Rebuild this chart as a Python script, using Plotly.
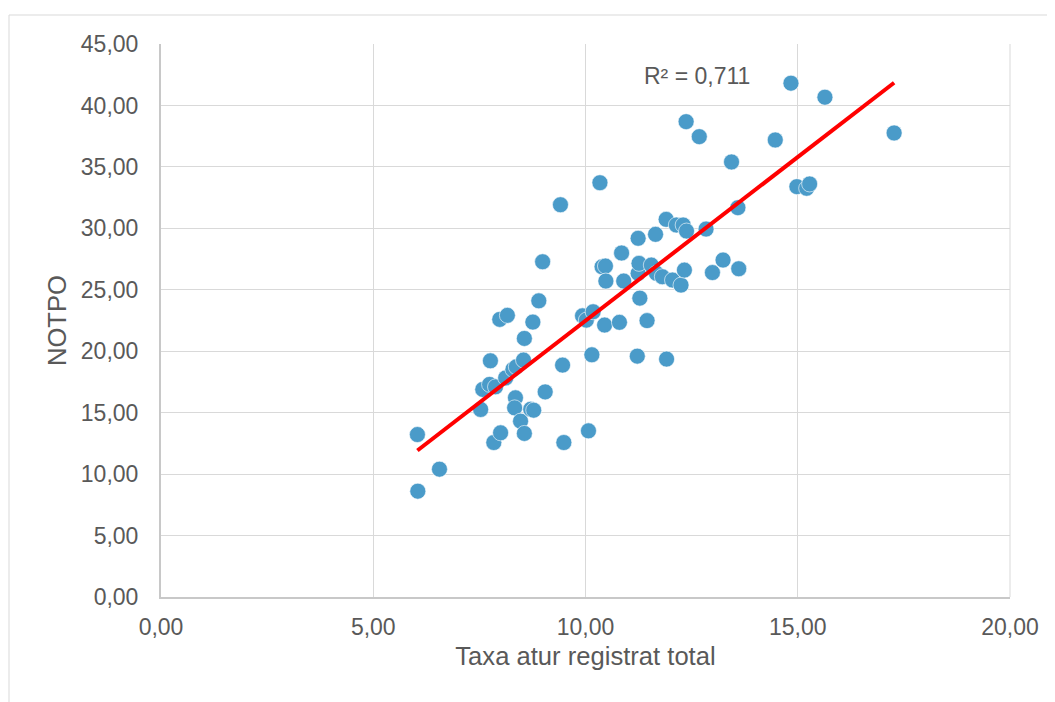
import numpy as np
import plotly.graph_objects as go

# Data
taxa_atur = [6.04, 6.05, 6.56, 7.53, 7.58, 7.74, 7.88, 7.76, 7.84, 8.00,
             7.98, 8.16, 8.12, 8.29, 8.37, 8.54, 8.35, 8.33, 8.47, 8.56,
             8.56, 8.71, 8.78, 8.76, 8.90, 8.99, 9.05, 9.41, 9.46, 9.49,
             9.93, 10.02, 10.07, 10.15, 10.18, 10.34, 10.39, 10.47, 10.45, 10.48,
             10.80, 10.85, 10.90, 11.22, 11.24, 11.24, 11.26, 11.28, 11.45, 11.55,
             11.65, 11.67, 11.81, 11.90, 11.91, 12.05, 12.14, 12.25, 12.30, 12.38,
             12.33, 12.37, 12.68, 12.84, 12.99, 13.24, 13.44, 13.59, 13.61, 14.47,
             14.84, 14.98, 15.21, 15.28, 15.64, 17.27]
notpo = [13.22, 8.61, 10.40, 15.26, 16.89, 17.30, 17.10, 19.22, 12.57, 13.36,
         22.59, 22.92, 17.83, 18.52, 18.73, 19.28, 16.21, 15.39, 14.31, 13.31,
         21.04, 15.28, 15.20, 22.37, 24.10, 27.28, 16.69, 31.92, 18.87, 12.57,
         22.88, 22.53, 13.52, 19.71, 23.21, 33.71, 26.87, 26.93, 22.13, 25.71,
         22.35, 27.99, 25.71, 19.60, 29.19, 26.34, 27.15, 24.32, 22.49, 27.01,
         29.51, 26.34, 26.06, 30.73, 19.36, 25.79, 30.27, 25.38, 30.27, 29.78,
         26.60, 38.68, 37.46, 29.94, 26.40, 27.42, 35.40, 31.68, 26.71, 37.19,
         41.81, 33.39, 33.26, 33.61, 40.67, 37.76]

x_ticks = [0, 5, 10, 15, 20]
x_tick_labels = ["0,00", "5,00", "10,00", "15,00", "20,00"]
y_ticks = [0, 5, 10, 15, 20, 25, 30, 35, 40, 45]
y_tick_labels = ["0,00", "5,00", "10,00", "15,00", "20,00", "25,00", "30,00", "35,00", "40,00", "45,00"]
r2_label = "R² = 0,711"

x = np.array(taxa_atur)
y = np.array(notpo)
slope, intercept = np.polyfit(x, y, 1)
tx = np.array([x.min(), x.max()])
ty = slope * tx + intercept

FONT = "Liberation Sans, Arial, sans-serif"
GRAY = "#595959"

fig = go.Figure()
fig.add_trace(go.Scatter(
    x=taxa_atur, y=notpo, mode="markers",
    marker=dict(size=16, color="#4a9bc9", line=dict(width=0.6, color="#ffffff")),
    showlegend=False, hoverinfo="x+y"))
fig.add_trace(go.Scatter(
    x=tx, y=ty, mode="lines",
    line=dict(color="#ff0000", width=4),
    showlegend=False, hoverinfo="skip"))

fig.add_annotation(x=12.62, y=42.4, text=r2_label, showarrow=False,
                   font=dict(family=FONT, size=23, color=GRAY))

# the page body adds an 8px offset; compensate so the figure lands on the same pixels
OFF = 8
W, H = 1055 - OFF, 702 - OFF
L, T = 161 - OFF, 44 - OFF
pw, ph = 849, 553
R = W - L - pw
B = H - T - ph
def px_to_paper_x(px):
    return (px - OFF - L) / pw
def px_to_paper_y(py):
    return (T + ph - (py - OFF)) / ph

# outer chart border (top and left visible)
fig.add_shape(type="line", xref="paper", yref="paper",
              x0=px_to_paper_x(9), x1=px_to_paper_x(1055),
              y0=px_to_paper_y(15), y1=px_to_paper_y(15),
              line=dict(color="#d9d9d9", width=1))
fig.add_shape(type="line", xref="paper", yref="paper",
              x0=px_to_paper_x(9), x1=px_to_paper_x(9),
              y0=px_to_paper_y(15), y1=px_to_paper_y(702),
              line=dict(color="#d9d9d9", width=1))

fig.update_layout(
    width=W, height=H,
    margin=dict(l=L, r=R, t=T, b=B),
    plot_bgcolor="white", paper_bgcolor="white",
    font=dict(family=FONT, color=GRAY),
    xaxis=dict(range=[0, 20], tickvals=x_ticks, ticktext=x_tick_labels,
               showgrid=True, gridcolor="#d9d9d9", gridwidth=1,
               zeroline=False, showline=True, linecolor="#c8c8c8", linewidth=2,
               mirror=False, ticks="outside", ticklen=8, tickcolor="rgba(0,0,0,0)",
               tickfont=dict(family=FONT, size=23, color=GRAY),
               title=dict(text="Taxa atur registrat total", standoff=8,
                          font=dict(family=FONT, size=25.6, color=GRAY))),
    yaxis=dict(range=[0, 45], tickvals=y_ticks, ticktext=y_tick_labels,
               showgrid=True, gridcolor="#d9d9d9", gridwidth=1,
               zeroline=False, showline=True, linecolor="#c8c8c8", linewidth=2,
               ticks="outside", ticklen=16, tickcolor="rgba(0,0,0,0)",
               tickfont=dict(family=FONT, size=23, color=GRAY),
               title=dict(text="NOTPO", standoff=7,
                          font=dict(family=FONT, size=25.6, color=GRAY))),
)
# right border of plot area
fig.add_shape(type="line", xref="paper", yref="paper", x0=1, x1=1, y0=0, y1=1,
              line=dict(color="#d9d9d9", width=1), layer="below")

fig.write_html("out.html")
